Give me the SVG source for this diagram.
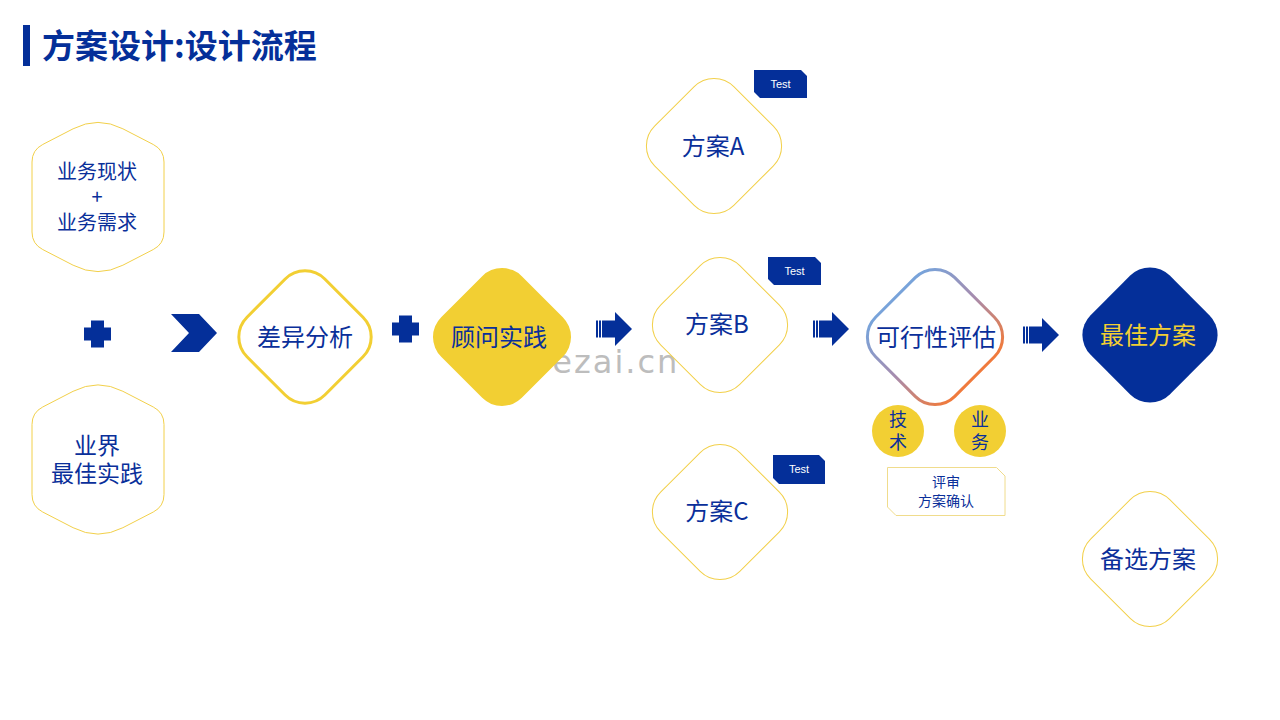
<svg xmlns="http://www.w3.org/2000/svg" xmlns:xlink="http://www.w3.org/1999/xlink" width="1280" height="720" viewBox="0 0 1280 720">
  <defs>
    <style>
      .t { font-family: "Noto Sans CJK SC", "Liberation Sans", sans-serif; fill: #0a2f9a; text-anchor: middle; }
      .t24 { font-size: 24px; }
      .t23 { font-size: 23px; }
      .t20 { font-size: 20px; }
      .t18 { font-size: 18px; }
      .t14 { font-size: 14px; }
      .thin { fill: #ffffff; stroke: #f2d04a; stroke-width: 1; }
      .thick { fill: #ffffff; stroke: #f2cf33; stroke-width: 3; }
      .blue { fill: #042f99; }
      .yellow { fill: #f2cf33; }
      .tag { fill: #042f99; }
      .tagt { font-family: "Liberation Sans", Arial, sans-serif; font-size: 11px; fill: #ffffff; text-anchor: middle; }
      .wm { font-family: "DejaVu Sans", sans-serif; font-size: 32px; fill: #bdbdbd; letter-spacing: 2px; }
    </style>
    <linearGradient id="gEval" x1="0" y1="0.5" x2="1" y2="0.5">
      <stop offset="0" stop-color="#78a3da"/>
      <stop offset="0.5" stop-color="#a68cae"/>
      <stop offset="1" stop-color="#f07a3c"/>
    </linearGradient>
    <path id="hex" d="M-24.9,-68.2 Q0,-81 24.9,-68.2 L55.3,-52.5 Q66,-47 66,-35 L66,35 Q66,47 55.3,52.5 L24.9,68.2 Q0,81 -24.9,68.2 L-55.3,52.5 Q-66,47 -66,35 L-66,-35 Q-66,-47 -55.3,-52.5 Z"/>
    <g id="arr">
      <rect x="0" y="-8.5" width="2" height="17" class="blue"/>
      <rect x="3" y="-8.5" width="2" height="17" class="blue"/>
      <path d="M6,-8.5 H19 V-17 L36,0 L19,17 V8.5 H6 Z" class="blue"/>
    </g>
    <path id="plus" d="M-6.5,-13.5 H6.5 V-6.5 H13.5 V6.5 H6.5 V13.5 H-6.5 V6.5 H-13.5 V-6.5 H-6.5 Z"/>
  </defs>

  <rect width="1280" height="720" fill="#ffffff"/>

  <!-- Title -->
  <g id="title">
    <rect x="23" y="25" width="7" height="41" class="blue"/>
    <text x="42" y="58" style="font-family:'Noto Sans CJK SC','Liberation Sans',sans-serif;font-size:33px;font-weight:bold;fill:#042f99">方案设计:设计流程</text>
  </g>

  <!-- Watermark -->
  <text class="wm" x="530" y="373">bezai.cn</text>

  <!-- Connectors -->
  <g id="connectors">
    <use xlink:href="#plus" href="#plus" class="blue" transform="translate(97.5,334)"/>
    <path d="M171,314 H199 L217,333 L199,352 H171 L189,333 Z" class="blue"/>
    <use xlink:href="#plus" href="#plus" class="blue" transform="translate(405.5,329)"/>
    <use xlink:href="#arr" href="#arr" transform="translate(596,329)"/>
    <use xlink:href="#arr" href="#arr" transform="translate(813,329)"/>
    <use xlink:href="#arr" href="#arr" transform="translate(1023,335)"/>
  </g>

  <!-- Nodes -->
  <g id="node-status">
    <use xlink:href="#hex" href="#hex" class="thin" transform="translate(98,197)"/>
    <text class="t t20" x="97" y="179">业务现状</text>
    <text class="t t20" x="97" y="204">+</text>
    <text class="t t20" x="97" y="230">业务需求</text>
  </g>

  <g id="node-best-practice">
    <use xlink:href="#hex" href="#hex" class="thin" transform="translate(98,459.5)"/>
    <text class="t t23" x="97" y="454">业界</text>
    <text class="t t23" x="97" y="482">最佳实践</text>
  </g>

  <g id="node-gap">
    <rect x="-55" y="-55" width="110" height="110" rx="28" class="thick" transform="translate(305,337) rotate(45)"/>
    <text class="t t24" x="305" y="346">差异分析</text>
  </g>

  <g id="node-consult">
    <rect x="-57" y="-57" width="114" height="114" rx="28" class="yellow" transform="translate(502,337) rotate(45)"/>
    <text class="t t24" x="499" y="346">顾问实践</text>
  </g>

  <g id="node-a">
    <rect x="-56" y="-56" width="112" height="112" rx="28" class="thin" transform="translate(714,146) rotate(45)"/>
    <text class="t t24" x="713" y="155">方案A</text>
    <path d="M754,70 H801 L807,76 V98 H760 L754,92 Z" class="tag"/>
    <text class="tagt" x="780.5" y="88">Test</text>
  </g>

  <g id="node-b">
    <rect x="-56" y="-56" width="112" height="112" rx="28" class="thin" transform="translate(720,325) rotate(45)"/>
    <text class="t t24" x="717" y="333">方案B</text>
    <path d="M768,257 H815 L821,263 V285 H774 L768,279 Z" class="tag"/>
    <text class="tagt" x="794.5" y="275">Test</text>
  </g>

  <g id="node-c">
    <rect x="-56" y="-56" width="112" height="112" rx="28" class="thin" transform="translate(720,512) rotate(45)"/>
    <text class="t t24" x="717" y="520">方案C</text>
    <path d="M773,455 H819 L825,461 V484 H779 L773,478 Z" class="tag"/>
    <text class="tagt" x="799" y="473">Test</text>
  </g>

  <g id="node-eval">
    <rect x="-56" y="-56" width="112" height="112" rx="28" fill="#ffffff" stroke="url(#gEval)" stroke-width="3" transform="translate(935,337) rotate(45)"/>
    <text class="t t24" x="936" y="346">可行性评估</text>
  </g>

  <g id="node-tech">
    <circle cx="898" cy="431" r="26" class="yellow"/>
    <text class="t t18" x="898" y="426">技</text>
    <text class="t t18" x="898" y="449">术</text>
  </g>

  <g id="node-biz">
    <circle cx="980" cy="431" r="26" class="yellow"/>
    <text class="t t18" x="980" y="426">业</text>
    <text class="t t18" x="980" y="449">务</text>
  </g>

  <g id="node-review">
    <path d="M887.5,467.5 H996.5 L1005,476 V515.5 H896 L887.5,507 Z" fill="#ffffff" stroke="#f0dc8c" stroke-width="1"/>
    <text class="t t14" x="946" y="487">评审</text>
    <text class="t t14" x="946" y="506">方案确认</text>
  </g>

  <g id="node-best">
    <rect x="-56" y="-56" width="112" height="112" rx="28" class="blue" transform="translate(1150,335) rotate(45)"/>
    <text class="t t24" x="1148" y="344" style="fill:#f2cf33">最佳方案</text>
  </g>

  <g id="node-alt">
    <rect x="-56" y="-56" width="112" height="112" rx="28" class="thin" transform="translate(1150,559) rotate(45)"/>
    <text class="t t24" x="1148" y="568">备选方案</text>
  </g>
</svg>
